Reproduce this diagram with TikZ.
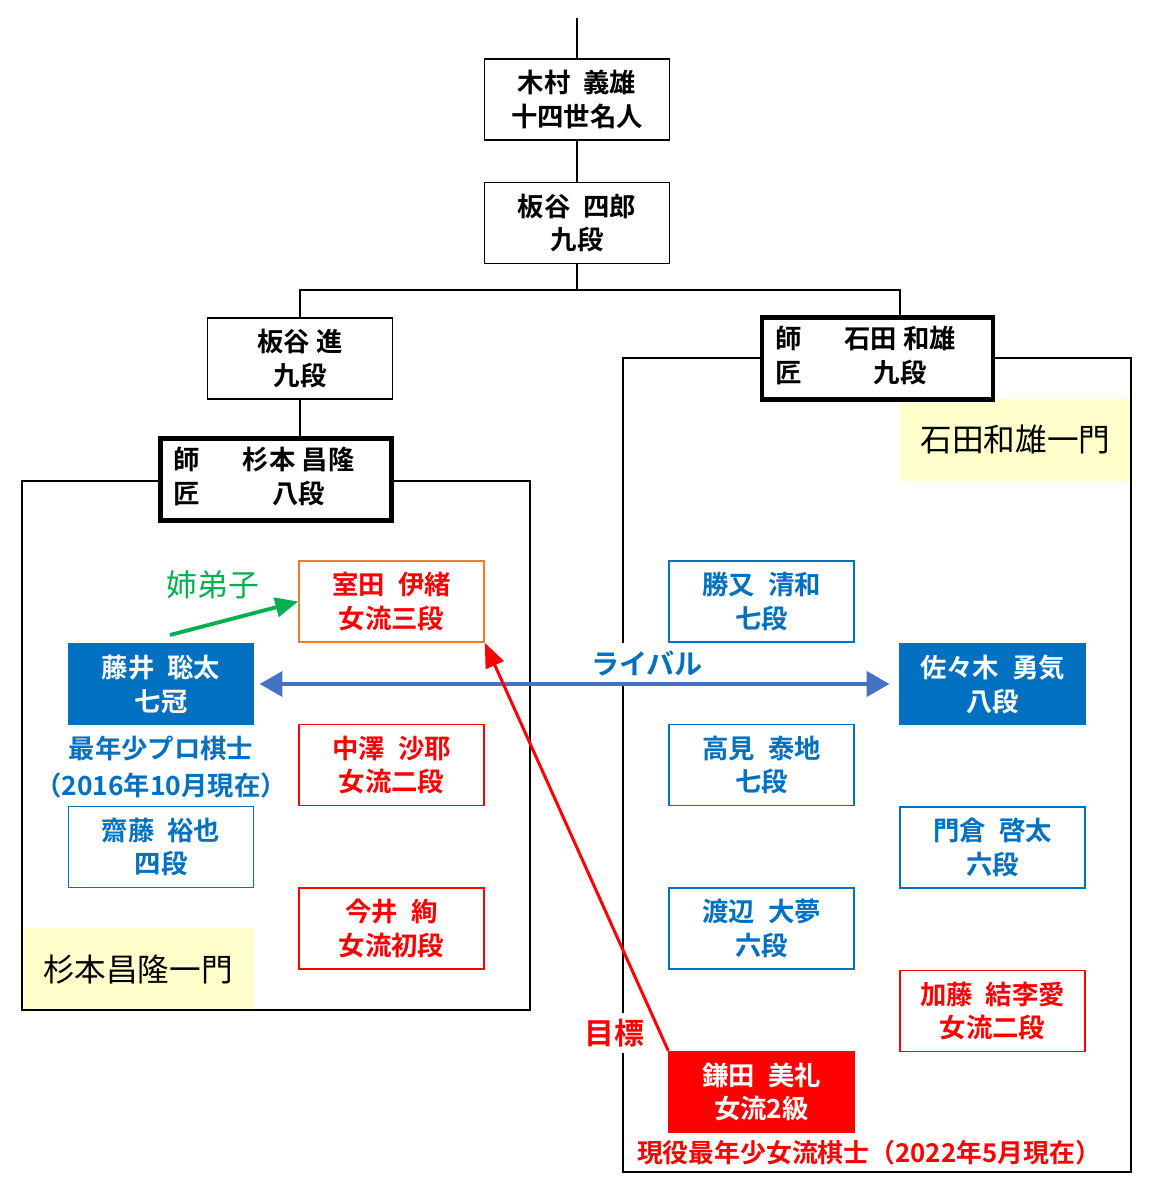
\documentclass[tikz,border=0pt]{standalone}
\usepackage{fontspec}
\setmainfont{Noto Sans CJK JP}[BoldFont={Noto Sans CJK JP Bold}]
\definecolor{kiblue}{HTML}{0070C0}
\definecolor{kired}{HTML}{FF0000}
\definecolor{kiorange}{HTML}{ED7D31}
\definecolor{kigreen}{HTML}{00B050}
\definecolor{kiarrow}{HTML}{4472C4}
\definecolor{kiyellow}{HTML}{FFFFCC}
\usetikzlibrary{positioning}
\usetikzlibrary{arrows.meta}
\tikzstyle{master} = [draw=black, fill=white, text=black]
\tikzstyle{shisho} = [master, line width=2.3pt, minimum width=4.62cm, minimum height=1.64cm]
\tikzstyle{pro} = [draw=kiblue, fill=white, text=kiblue]
\tikzstyle{topPro} = [draw=kiblue, fill=kiblue, text=white]
\tikzstyle{joryu} = [draw=kired, fill=white, text=kired]
\tikzstyle{topJoryu} = [draw=kired, fill=kired, text=white]
\tikzstyle{ichimon} = [fill=kiyellow, minimum width=4.62cm, minimum height=1.64cm, font=\fontsize{18}{22}\selectfont]
\tikzstyle{remark} = [fill=white, minimum width=0pt, minimum height=0pt, inner sep=1pt]
\newcommand{\jsp}{\hspace{0.5em}}

\begin{document}
\begin{tikzpicture}[
  x=0.2mm, y=-0.2mm,
  every path/.style={line width=0.85pt},
  every node/.style={rectangle, align=center, minimum width=3.7cm, minimum height=1.62cm,
    inner sep=2pt, font=\bfseries\fontsize{15}{19.3}\selectfont},
]
\useasboundingbox (0,0) rectangle (1155,1193);

% ichimon labels and frames
\node[ichimon] (ishidaG) at (1015.5,439.5) {石田和雄一門};
\node[ichimon] (sugimotoG) at (138,969) {杉本昌隆一門};
\draw (22,481) rectangle (530,1010);
\draw (623,358) rectangle (1131,1172);

% family tree
\coordinate (top) at (577,18);
\node[master] (kimura) at (577,99.5) {木村\jsp 義雄\\十四世名人};
\node[master, below=0.82cm of kimura] (itaya4) {板谷\jsp 四郎\\九段};
\coordinate (split) at (577,290);
\coordinate (jl) at (300,290);
\coordinate (jr) at (900,290);
\node[master] (susumu) at (300,358.5) {板谷 進\\九段};
\node[shisho] (sugimoto) at (276,479.5)
  {\begin{tabular}{@{}l@{\hspace{0.86cm}}c@{\hspace{0.48cm}}}師 & 杉本 昌隆\\匠 & 八段\end{tabular}};
\node[shisho] (ishida) at (877.5,358.5)
  {\begin{tabular}{@{}l@{\hspace{0.86cm}}c@{\hspace{0.48cm}}}師 & 石田 和雄\\匠 & 九段\end{tabular}};
\draw (top) -- (kimura);
\draw (kimura) -- (itaya4);
\draw (itaya4) -- (split);
\draw (susumu) -- (jl) -- (jr) -- (jr |- ishida.north);
\draw (susumu) -- (susumu |- sugimoto.north);

% Sugimoto
\node[draw=kiorange, fill=white, text=kired] (murota) at (391.5,601.5) {室田\jsp 伊緒\\女流三段};
\node[joryu, below=1.62cm of murota] (nakazawa) {中澤\jsp 沙耶\\女流二段};
\node[joryu, below=1.62cm of nakazawa] (imai) {今井\jsp 絢\\女流初段};
\node[topPro] (fujii) at (161,684) {藤井\jsp 聡太\\七冠};
\node[pro] (saito) at (161,847) {齋藤\jsp 裕也\\四段};
\node[remark, text=kiblue, font=\bfseries\fontsize{15}{21.5}\selectfont] (fujiiNote) at (161,767)
  {最年少プロ棋士\\（2016年10月現在）};

% Ishida
\node[pro] (katsumata) at (761.5,601.5) {勝又\jsp 清和\\七段};
\node[pro, below=1.62cm of katsumata] (takami) {高見\jsp 泰地\\七段};
\node[pro, below=1.62cm of takami] (watanabe) {渡辺\jsp 大夢\\六段};
\node[topJoryu, below=1.62cm of watanabe] (kamata) {鎌田\jsp 美礼\\女流2級};
\node[topPro] (sasaki) at (992.5,684) {佐々木\jsp 勇気\\八段};
\node[pro, below=1.62cm of sasaki] (kadokura) {門倉\jsp 啓太\\六段};
\node[joryu, below=1.62cm of kadokura] (kato) {加藤\jsp 結李愛\\女流二段};
\node[remark, text=kired, font=\bfseries\fontsize{14.7}{18}\selectfont] (kamataNote) at (869,1153) {現役最年少女流棋士（2022年5月現在）};

% relations
\coordinate (gtail) at (170,635);
\node[remark, text=kigreen, font=\fontsize{17.5}{20}\selectfont] (anedeshi) at (213,585) {姉弟子};
\node[remark, text=kiblue, font=\bfseries\fontsize{16}{20}\selectfont, minimum height=0.8cm] (rival) at (647,663) {ライバル};
\node[remark, text=kired, font=\bfseries\fontsize{17}{20}\selectfont, minimum height=0.8cm] (goal) at (614,1033) {目標};
\draw[kigreen, line width=2.2pt, -{Triangle[length=13pt,width=11pt]}] (gtail) -- (murota.west);
\draw[kiarrow, line width=2.8pt, {Triangle[length=13pt,width=14pt]}-{Triangle[length=13pt,width=14pt]},
  shorten <=3pt, shorten >=5.5pt] (fujii) -- (sasaki);
\draw[kired, line width=1.7pt, -{Triangle[length=14pt,width=11pt]}] (kamata.north west) -- (murota.south east);
\end{tikzpicture}
\end{document}
